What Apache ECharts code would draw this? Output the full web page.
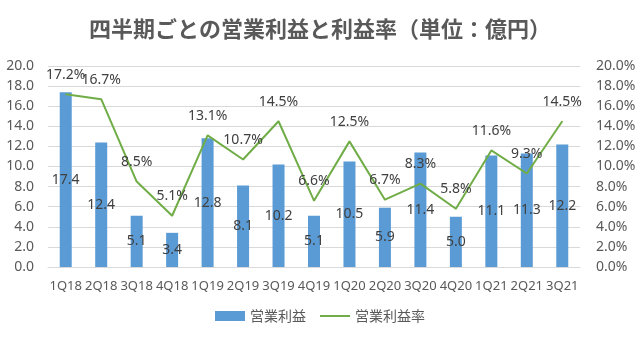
<!DOCTYPE html>
<html><head><meta charset="utf-8">
<script src="https://cdn.jsdelivr.net/npm/echarts@6/dist/echarts.min.js"></script>
<style>html,body{margin:0;padding:0;background:#fff}#c{width:640px;height:340px}</style>
</head><body><div id="c"></div>
<script>
const categories = ['1Q18','2Q18','3Q18','4Q18','1Q19','2Q19','3Q19','4Q19','1Q20','2Q20','3Q20','4Q20','1Q21','2Q21','3Q21'];
const operatingProfit = [17.4, 12.4, 5.1, 3.4, 12.8, 8.1, 10.2, 5.1, 10.5, 5.9, 11.4, 5.0, 11.1, 11.3, 12.2];
const profitRate = [17.2, 16.7, 8.5, 5.1, 13.1, 10.7, 14.5, 6.6, 12.5, 6.7, 8.3, 5.8, 11.6, 9.3, 14.5];
const titleText = '四半期ごとの営業利益と利益率（単位：億円）';
const seriesNames = ['営業利益', '営業利益率'];

const FONT = '"Noto Sans", "Noto Sans CJK JP", sans-serif';
const chart = echarts.init(document.getElementById('c'), null, {renderer: 'canvas'});
chart.setOption({
  animation: false,
  backgroundColor: '#fff',
  textStyle: {fontFamily: FONT},
  title: {
    text: titleText, left: 'center', top: 13,
    textStyle: {fontFamily: '"Noto Sans CJK JP", sans-serif', fontSize: 22, fontWeight: 'bold', color: '#595959'}
  },
  legend: {
    bottom: 12, left: 'center', itemGap: 14,
    itemWidth: 30, itemHeight: 10,
    textStyle: {fontFamily: '"Noto Sans CJK JP", sans-serif', fontSize: 14, color: '#595959'},
    data: [
      {name: seriesNames[0], icon: 'rect'},
      {name: seriesNames[1], icon: 'path://M0,4 L30,4 L30,6 L0,6 Z', itemStyle: {color: '#70ad47'}}
    ]
  },
  grid: {left: 48, right: 60, top: 66, bottom: 73},
  xAxis: {
    type: 'category', data: categories,
    axisLine: {show: true, lineStyle: {color: '#d9d9d9'}},
    axisTick: {show: false},
    axisLabel: {color: '#595959', fontSize: 13, margin: 13, interval: 0}
  },
  yAxis: [
    {
      type: 'value', min: 0, max: 20, interval: 2,
      axisLabel: {color: '#595959', fontSize: 14, margin: 14, formatter: v => v.toFixed(1)},
      splitLine: {lineStyle: {color: '#d9d9d9'}},
      axisLine: {show: false}, axisTick: {show: false}
    },
    {
      type: 'value', min: 0, max: 20, interval: 2,
      axisLabel: {color: '#595959', fontSize: 14, margin: 16, formatter: v => v.toFixed(1) + '%'},
      splitLine: {show: false},
      axisLine: {show: false}, axisTick: {show: false}
    }
  ],
  series: [
    {
      name: seriesNames[0], type: 'bar', data: operatingProfit, barWidth: 12,
      itemStyle: {color: '#5b9bd5'},
      label: {show: true, position: 'inside', color: '#404040', fontSize: 14, formatter: p => p.value.toFixed(1)}
    },
    {
      name: seriesNames[1], type: 'line', yAxisIndex: 1, data: profitRate,
      symbol: 'circle', symbolSize: 1, showSymbol: true,
      lineStyle: {color: '#70ad47', width: 2}, itemStyle: {color: '#70ad47'},
      label: {show: true, position: 'top', distance: 12, color: '#404040', fontSize: 14, formatter: p => p.value.toFixed(1) + '%'}
    }
  ]
});
</script></body></html>
